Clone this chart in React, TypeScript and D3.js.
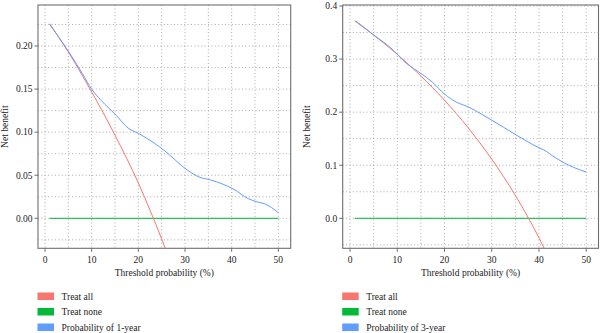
import React from "react";
import * as d3 from "d3";

// ---------- data ----------
const thresholds1 = [1, 3, 5, 8, 10, 12, 15, 18, 20, 23.5, 25.5, 30.5, 33, 35.5, 40.5, 43.5, 45.5, 47, 50];
const model1 = [0.225, 0.210, 0.194, 0.168, 0.150, 0.137, 0.121, 0.104, 0.0986, 0.087, 0.079, 0.056, 0.048, 0.0445, 0.0336, 0.023, 0.019, 0.017, 0.0066];
const treatAllX1 = [1, 3, 5, 8, 10, 12.5, 15, 20, 25, 27];
const treatAll1 = [0.226, 0.2095, 0.193, 0.1657, 0.1467, 0.1223, 0.0965, 0.041, -0.024, -0.052];

const thresholds3 = [1.2, 5, 8.5, 12, 15, 17.5, 20, 22.5, 25, 27.5, 30, 35, 40, 41, 43.5, 45.2, 50];
const model3 = [0.372, 0.3455, 0.322, 0.2915, 0.273, 0.256, 0.234, 0.219, 0.210, 0.198, 0.185, 0.158, 0.133, 0.129, 0.114, 0.105, 0.087];
const treatAllX3 = [1, 5, 8.5, 10, 12.5, 15, 20, 25, 30, 35, 40, 43];
const treatAll3 = [0.372, 0.3453, 0.3203, 0.309, 0.2891, 0.2682, 0.2225, 0.1707, 0.1114, 0.0431, -0.0367, -0.092];

const treatNoneX = [1, 50];
const treatNone = [0, 0];

const xTicks = [0, 10, 20, 30, 40, 50];
const yTicks1 = [0, 0.05, 0.1, 0.15, 0.2];
const yTicks3 = [0, 0.1, 0.2, 0.3, 0.4];
const xGrid = [0, 5, 10, 15, 20, 25, 30, 35, 40, 45, 50];
const yGrid1 = [-0.025, 0, 0.025, 0.05, 0.075, 0.1, 0.125, 0.15, 0.175, 0.2, 0.225];
const yGrid3 = [-0.05, 0, 0.05, 0.1, 0.15, 0.2, 0.25, 0.3, 0.35, 0.4];

const legendLabels1 = ["Treat all", "Treat none", "Probability of 1-year"];
const legendLabels3 = ["Treat all", "Treat none", "Probability of 3-year"];
const colors = ["#F8766D", "#00BA38", "#619CFF"];

const FONT = "Liberation Serif, Times New Roman, DejaVu Serif, serif";
const FS = 9.5;

type PanelProps = {
  id: string;
  left: number;
  right: number;
  xDomain: [number, number];
  yDomain: [number, number];
  yTicks: number[];
  yGrid: number[];
  yFmt: (v: number) => string;
  model: { x: number[]; y: number[] };
  all: { x: number[]; y: number[] };
  legend: string[];
  titleX: number;
};

const TOP = 5;
const BOTTOM = 248.3;

function Panel(p: PanelProps) {
  const x = d3.scaleLinear().domain(p.xDomain).range([p.left, p.right]);
  const y = d3.scaleLinear().domain(p.yDomain).range([BOTTOM, TOP]);
  const line = d3
    .line<[number, number]>()
    .x((d) => x(d[0]))
    .y((d) => y(d[1]))
    .curve(d3.curveMonotoneX);
  const zip = (a: number[], b: number[]) => a.map((v, i) => [v, b[i]] as [number, number]);
  const cx = (p.left + p.right) / 2;
  const cy = (TOP + BOTTOM) / 2;
  const axisColor = "#6f6f6f";
  const txt = { fontFamily: FONT, fontSize: FS, fill: "#222" } as React.CSSProperties;
  return (
    <g>
      <defs>
        <clipPath id={p.id}>
          <rect x={p.left} y={TOP} width={p.right - p.left} height={BOTTOM - TOP} />
        </clipPath>
      </defs>
      {xGrid.map((g) => (
        <line key={"vx" + g} x1={x(g)} x2={x(g)} y1={TOP} y2={BOTTOM} stroke="#a0a0a0" strokeWidth={0.9} strokeDasharray="1 2.4" />
      ))}
      {p.yGrid.map((g) => (
        <line key={"hy" + g} x1={p.left} x2={p.right} y1={y(g)} y2={y(g)} stroke="#a0a0a0" strokeWidth={0.9} strokeDasharray="1 2.4" />
      ))}
      <g clipPath={`url(#${p.id})`} fill="none" strokeWidth={1}>
        <path d={line(zip(treatNoneX, treatNone)) || ""} stroke={colors[1]} />
        <path d={line(zip(p.all.x, p.all.y)) || ""} stroke={colors[0]} />
        <path d={line(zip(p.model.x, p.model.y)) || ""} stroke={colors[2]} />
      </g>
      <rect x={p.left} y={TOP} width={p.right - p.left} height={BOTTOM - TOP} fill="none" stroke={axisColor} strokeWidth={1.1} />
      {xTicks.map((t) => (
        <g key={"xt" + t}>
          <line x1={x(t)} x2={x(t)} y1={BOTTOM} y2={BOTTOM + 3.5} stroke={axisColor} />
          <text x={x(t)} y={263.3} textAnchor="middle" style={txt}>
            {t}
          </text>
        </g>
      ))}
      {p.yTicks.map((t) => (
        <g key={"yt" + t}>
          <line x1={p.left - 3.5} x2={p.left} y1={y(t)} y2={y(t)} stroke={axisColor} />
          <text x={p.left - 5.5} y={y(t) + 3.3} textAnchor="end" style={txt}>
            {p.yFmt(t)}
          </text>
        </g>
      ))}
      <text x={cx} y={276.3} textAnchor="middle" style={txt}>
        Threshold probability (%)
      </text>
      <text transform={`translate(${p.titleX},${cy}) rotate(-90)`} textAnchor="middle" style={txt}>
        Net benefit
      </text>
      {p.legend.map((lab, i) => (
        <g key={"lg" + i}>
          <rect x={p.left - 0.5} y={292.5 + i * 15.5} width={16.5} height={7.5} fill={colors[i]} />
          <text x={p.left + 23.5} y={299.6 + i * 15.5} style={txt}>
            {lab}
          </text>
        </g>
      ))}
    </g>
  );
}

export default function App() {
  return (
    <svg width={600} height={333} style={{ position: "absolute", left: 0, top: 0, background: "#fff" }}>
      <rect width={600} height={333} fill="#fff" />
      <Panel
        id="c1"
        left={38}
        right={290.7}
        xDomain={[-1.5, 52.65]}
        yDomain={[-0.0348, 0.2476]}
        yTicks={yTicks1}
        yGrid={yGrid1}
        yFmt={d3.format(".2f")}
        model={{ x: thresholds1, y: model1 }}
        all={{ x: treatAllX1, y: treatAll1 }}
        legend={legendLabels1}
        titleX={8.3}
      />
      <Panel
        id="c3"
        left={342.7}
        right={598.5}
        xDomain={[-1.55, 52.6]}
        yDomain={[-0.0565, 0.4019]}
        yTicks={yTicks3}
        yGrid={yGrid3}
        yFmt={d3.format(".1f")}
        model={{ x: thresholds3, y: model3 }}
        all={{ x: treatAllX3, y: treatAll3 }}
        legend={legendLabels3}
        titleX={310}
      />
    </svg>
  );
}
